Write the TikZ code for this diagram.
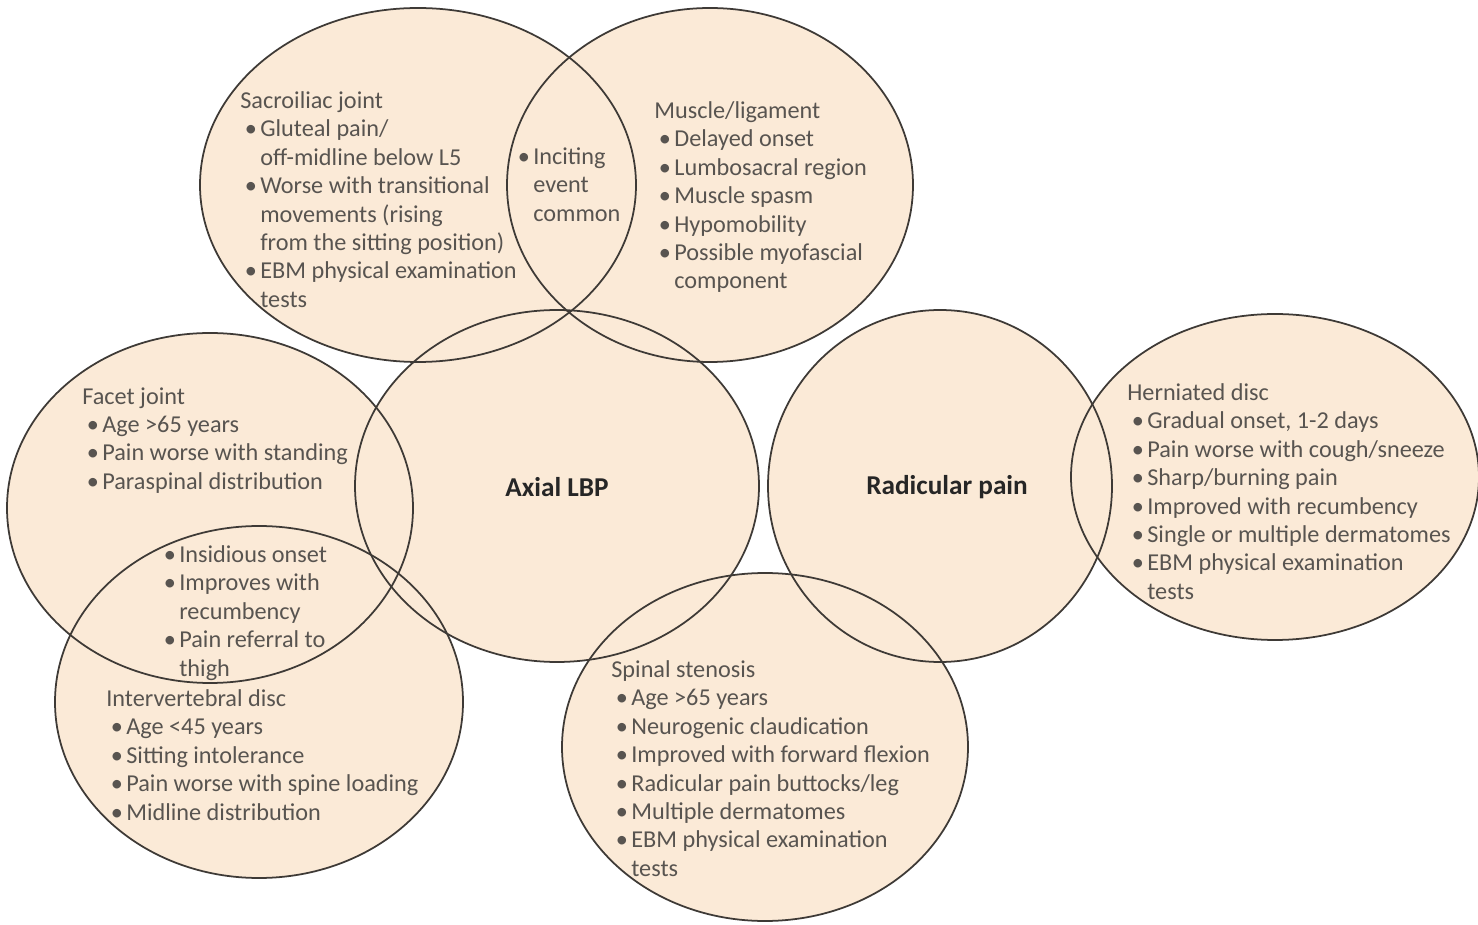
\documentclass[tikz,border=0pt]{standalone}
\usepackage{fontspec}
\setmainfont{Carlito}
\definecolor{peach}{RGB}{251,234,215}
\definecolor{rim}{RGB}{62,58,54}
\definecolor{ink}{RGB}{88,84,80}
\newcommand{\itm}[1]{\hspace*{0.09cm}\makebox[0.31cm][l]{\textbullet}#1}
\newcommand{\cnt}[1]{\hspace*{0.4cm}#1}
\begin{document}
\begin{tikzpicture}[
    x=0.02cm, y=-0.02cm,
    blob/.style={draw=rim, line width=1pt},
    notes/.style={anchor=north west, inner sep=0pt, align=left, text=ink,
        font=\fontsize{13.8}{16.2}\selectfont},
    title/.style={inner sep=0pt, text=black!85, font=\fontsize{15.5}{18}\selectfont\bfseries}
]
    \useasboundingbox[fill=white] (0,0) rectangle (1478,925);
    % Fills first, outlines after, so every rim stays visible
    \foreach \cx/\cy/\rx/\ry in {418/185/218/177, 710/185/203/177, 557/486/202/176,
        940/486/172/176, 1275/477/204/163, 210/508/203/175, 259/702/204/176, 765/747/203/174}
        \fill[peach] (\cx,\cy) ellipse [x radius=\rx, y radius=\ry];
    \foreach \cx/\cy/\rx/\ry in {418/185/218/177, 710/185/203/177, 557/486/202/176,
        940/486/172/176, 1275/477/204/163, 210/508/203/175, 259/702/204/176, 765/747/203/174}
        \draw[blob] (\cx,\cy) ellipse [x radius=\rx, y radius=\ry];

    % Centre labels
    \node[title] (axial) at (557,487) {Axial LBP};
    \node[title] (radicular) at (947,487) {Radicular pain};

    % Text blocks
    \node[notes] (sacro) at (240,91) {Sacroiliac joint\\
        \itm{Gluteal pain/}\\ \cnt{off-midline below L5}\\
        \itm{Worse with transitional}\\ \cnt{movements (rising}\\
        \cnt{from the sitting position)}\\
        \itm{EBM physical examination}\\ \cnt{tests}};
    \node[notes] (inciting) at (513,147) {\itm{Inciting}\\ \cnt{event}\\ \cnt{common}};
    \node[notes] (muscle) at (654,101) {Muscle/ligament\\
        \itm{Delayed onset}\\ \itm{Lumbosacral region}\\ \itm{Muscle spasm}\\
        \itm{Hypomobility}\\ \itm{Possible myofascial}\\ \cnt{component}};
    \node[notes] (facet) at (82,387) {Facet joint\\
        \itm{Age >65 years}\\ \itm{Pain worse with standing}\\
        \itm{Paraspinal distribution}};
    \node[notes] (shared) at (159,545) {\itm{Insidious onset}\\
        \itm{Improves with}\\ \cnt{recumbency}\\
        \itm{Pain referral to}\\ \cnt{thigh}};
    \node[notes] (disc) at (106,689) {Intervertebral disc\\
        \itm{Age <45 years}\\ \itm{Sitting intolerance}\\
        \itm{Pain worse with spine loading}\\ \itm{Midline distribution}};
    \node[notes] (hernia) at (1127,383) {Herniated disc\\
        \itm{Gradual onset, 1-2 days}\\ \itm{Pain worse with cough/sneeze}\\
        \itm{Sharp/burning pain}\\ \itm{Improved with recumbency}\\
        \itm{Single or multiple dermatomes}\\
        \itm{EBM physical examination}\\ \cnt{tests}};
    \node[notes] (stenosis) at (611,660) {Spinal stenosis\\
        \itm{Age >65 years}\\ \itm{Neurogenic claudication}\\
        \itm{Improved with forward flexion}\\ \itm{Radicular pain buttocks/leg}\\
        \itm{Multiple dermatomes}\\
        \itm{EBM physical examination}\\ \cnt{tests}};
\end{tikzpicture}
\end{document}
